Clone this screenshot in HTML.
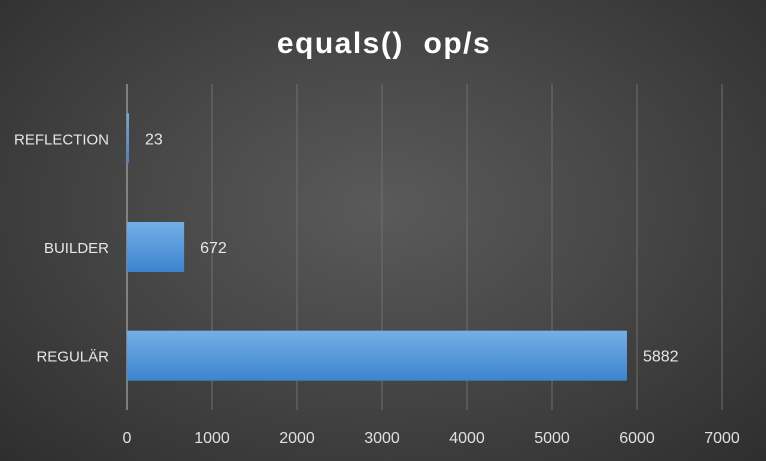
<!DOCTYPE html>
<html style="background:#333"><head><meta charset="utf-8"><style>
html,body{margin:0;padding:0;}
body{width:766px;height:461px;overflow:hidden;background:radial-gradient(ellipse at 50% 45%,#5a5a5a 0%,#474747 45%,#2e2e2e 100%);font-family:"Liberation Sans",sans-serif;}
svg{display:block;}
</style></head><body>
<svg width="766" height="461" id="chart">
<text x="384" y="53" text-anchor="middle" fill="#fff" font-size="30" font-weight="bold" letter-spacing="1.5" font-family="Liberation Sans, sans-serif" xml:space="preserve">equals()  op/s</text>
<defs><linearGradient id="bg" x1="0" y1="0" x2="0" y2="1"><stop offset="0" stop-color="#74afe6"/><stop offset="1" stop-color="#3d84cf"/></linearGradient></defs>
<g id="grid"></g><g id="bars"></g><g id="labels"></g>
</svg>
<script>
const categories=["REFLECTION","BUILDER","REGULÄR"];
const values=[23,672,5882];
const ticks=[0,1000,2000,3000,4000,5000,6000,7000];
const x0=127,x1=722,maxV=7000,yTop=84,yBot=410;
const xs=v=>x0+(x1-x0)*v/maxV;
const bandH=(yBot-yTop)/categories.length;
const ys=i=>yTop+bandH*i+bandH/2;
const NS="http://www.w3.org/2000/svg";
function mk(t,a,p){const e=document.createElementNS(NS,t);for(const k in a)e.setAttribute(k,a[k]);p.appendChild(e);return e;}
const gG=document.getElementById('grid'),gB=document.getElementById('bars'),gL=document.getElementById('labels');
ticks.forEach(t=>{
 const ln=mk('line',{x1:xs(t),x2:xs(t),y1:yTop,y2:yBot,stroke:t===0?'#bfbfbf':'#6f6f6f','stroke-width':1},gG);
 
 
 const tx=mk('text',{x:xs(t),y:443,'text-anchor':'middle',fill:'#e0e0e0','font-size':16},gL);
 tx.textContent=t;
 
 
});
categories.forEach((c,i)=>{
 const y=ys(i);
 const r=mk('rect',{x:x0,y:y-25,width:Math.max(1,xs(values[i])-x0),height:50,fill:'url(#bg)'},gB);
 
 
 const ct=mk('text',{x:109,y:y+6,'text-anchor':'end',fill:'#e6e6e6','font-size':15},gL);
 ct.textContent=c;
 
 
 const vt=mk('text',{x:xs(values[i])+16,y:y+6,fill:'#e6e6e6','font-size':16},gL);
 vt.textContent=values[i];
 
 
});
</script>
</body></html>
